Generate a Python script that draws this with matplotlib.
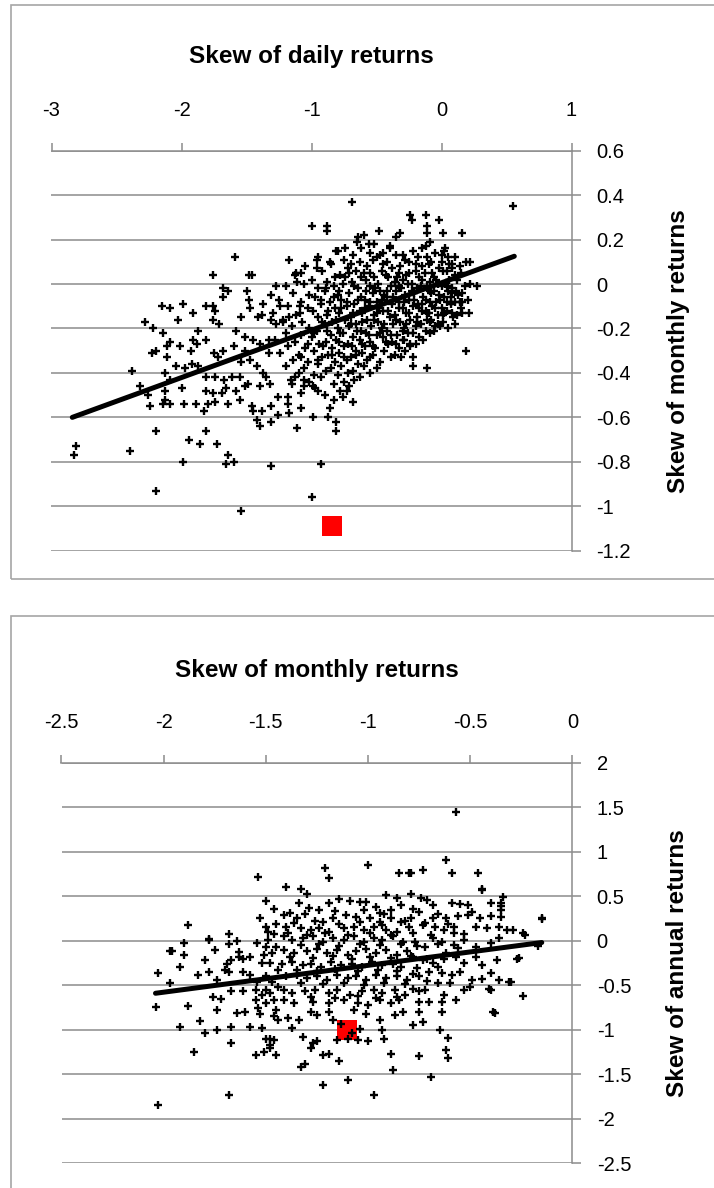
import matplotlib
matplotlib.use("Agg")
import matplotlib.pyplot as plt
from matplotlib.patches import Rectangle

plt.rcParams['font.family'] = ['Liberation Sans Narrow', 'Liberation Sans', 'DejaVu Sans']
plt.rcParams['axes.unicode_minus'] = False

GRID = '#8c8c8c'

# ---- panel 1: skew of daily returns (x) vs skew of monthly returns (y)
daily_monthly = [
    # outliers / sparse left part
    (-1.76, 0.04), (-1.68, -0.02), (-1.64, -0.03), (-1.68, -0.06), (-2.15, -0.10), (-2.09, -0.11),
    (-1.99, -0.09), (-1.91, -0.13), (-2.03, -0.16), (-1.81, -0.10), (-1.76, -0.10), (-1.74, -0.12),
    (-1.76, -0.16), (-1.71, -0.18), (-2.28, -0.17), (-2.22, -0.20), (-2.14, -0.22), (-1.87, -0.21),
    (-1.91, -0.25), (-1.88, -0.27), (-1.81, -0.25), (-2.09, -0.26), (-2.11, -0.28), (-2.01, -0.28),
    (-1.93, -0.30), (-2.23, -0.31), (-2.20, -0.30), (-2.11, -0.33), (-2.04, -0.37), (-1.97, -0.38),
    (-1.92, -0.36), (-1.87, -0.37), (-2.38, -0.39), (-2.13, -0.40), (-2.09, -0.43), (-2.00, -0.47),
    (-2.32, -0.46), (-2.26, -0.50), (-2.13, -0.48), (-2.13, -0.52), (-2.24, -0.55), (-2.14, -0.54),
    (-2.09, -0.54), (-1.98, -0.54), (-1.89, -0.54), (-1.83, -0.57), (-1.80, -0.54), (-1.74, -0.53),
    (-1.81, -0.42), (-1.74, -0.42), (-1.81, -0.48), (-1.76, -0.49), (-1.69, -0.49), (-1.75, -0.31),
    (-1.72, -0.33), (-1.68, -0.30), (-1.66, -0.47), (-1.67, -0.43), (-1.64, -0.54),
    (-2.81, -0.73), (-2.83, -0.77), (-2.40, -0.75), (-2.20, -0.66), (-1.81, -0.66), (-1.94, -0.70),
    (-1.86, -0.72), (-1.73, -0.72), (-1.99, -0.80), (-1.66, -0.81), (-1.64, -0.77), (-2.20, -0.93),
    (-0.69, 0.37), (-1.00, 0.26), (-0.88, 0.26), (-0.88, 0.24), (-0.64, 0.21), (-0.60, 0.22),
    (-0.65, 0.19), (-0.48, 0.24), (-0.35, 0.21), (-0.56, 0.18), (-0.52, 0.18), (-1.59, 0.12),
    (-1.17, 0.11), (-0.96, 0.11), (-0.96, 0.07), (-0.81, 0.15), (-0.74, 0.16), (-0.45, 0.14),
    (-0.40, 0.17), (-1.48, 0.04), (-1.46, 0.04), (-1.13, 0.04), (-1.08, 0.05), (-1.11, 0.01),
    (-1.27, -0.01), (-1.50, -0.03), (-1.31, -0.05), (-1.37, -0.09), (-1.48, -0.07), (-1.47, -0.11),
    (-1.24, -0.10), (-1.54, -0.15), (-1.41, -0.15), (-1.38, -0.14), (-1.31, -0.16), (-1.27, -0.18),
    (-1.22, -0.17), (-1.17, -0.15), (-1.09, -0.13), (-1.09, -0.10),
    (-1.51, -0.24), (-1.45, -0.25), (-1.58, -0.21), (-1.60, -0.28), (-1.51, -0.30), (-1.40, -0.27),
    (-1.33, -0.25), (-1.33, -0.31), (-1.54, -0.35), (-1.47, -0.34), (-1.42, -0.37), (-1.61, -0.42),
    (-1.55, -0.42), (-1.49, -0.45), (-1.58, -0.48), (-1.51, -0.46), (-1.37, -0.40), (-1.35, -0.42),
    (-1.32, -0.45), (-1.40, -0.46), (-1.55, -0.52), (-1.46, -0.55), (-1.45, -0.57), (-1.38, -0.57),
    (-1.31, -0.55), (-1.42, -0.61), (-1.40, -0.64), (-1.31, -0.62), (-1.26, -0.59), (-1.18, -0.51),
    (-1.18, -0.54), (-1.26, -0.51), (-1.17, -0.58), (-1.08, -0.56), (-1.11, -0.65), (-0.99, -0.60),
    (-0.87, -0.60), (-0.86, -0.56), (-0.81, -0.62), (-0.81, -0.66), (-0.95, -0.48), (-0.90, -0.50),
    (-0.83, -0.45), (-0.78, -0.48), (-0.73, -0.48), (-0.76, -0.51), (-0.83, -0.52), (-0.68, -0.53),
    (-1.08, -0.49), (-1.13, -0.42), (-1.06, -0.43), (-1.15, -0.45), (-0.99, -0.46), (-1.31, -0.82),
    (-0.93, -0.81), (-1.00, -0.96), (-1.54, -1.02), (-1.60, -0.80),
    (0.55, 0.35), (-0.24, 0.31), (-0.23, 0.29), (-0.12, 0.31), (-0.11, 0.26), (-0.02, 0.29),
    (-0.11, 0.23), (0.01, 0.23), (0.16, 0.23), (-0.32, 0.23), (-0.09, 0.19), (-0.15, 0.16),
    (0.03, 0.16), (0.00, 0.13), (0.10, 0.12), (0.14, 0.08), (0.19, 0.10), (0.22, 0.10),
    (0.08, 0.09), (0.04, 0.06), (0.22, 0.00), (0.27, -0.01), (0.16, -0.04), (0.08, -0.04),
    (0.07, -0.08), (0.16, -0.08), (0.04, -0.08), (0.08, -0.13), (0.16, -0.13), (0.21, -0.13),
    (0.10, -0.18), (0.01, -0.14), (-0.01, -0.19), (-0.06, -0.21), (-0.09, -0.17), (-0.11, -0.13),
    (0.19, -0.30), (-0.29, -0.25), (-0.24, -0.27), (-0.28, -0.30), (-0.22, -0.33), (-0.31, -0.33),
    (-0.22, -0.37), (-0.11, -0.38),
    # dense cloud
    (-0.80, 0.15), (-0.62, 0.16), (-0.55, 0.14), (-0.40, 0.16), (-0.30, 0.13), (-0.22, 0.15),
    (-0.12, 0.17), (-0.05, 0.14), (0.02, 0.15),
    (-0.95, 0.12), (-0.75, 0.11), (-0.68, 0.13), (-0.50, 0.12), (-0.42, 0.10), (-0.35, 0.13),
    (-0.28, 0.11), (-0.18, 0.12), (-0.08, 0.10), (0.05, 0.12),
    (-1.05, 0.08), (-0.85, 0.09), (-0.72, 0.07), (-0.63, 0.10), (-0.57, 0.08), (-0.45, 0.09),
    (-0.38, 0.07), (-0.25, 0.10), (-0.15, 0.08), (-0.10, 0.09), (-0.02, 0.07), (0.06, 0.09),
    (-1.12, 0.05), (-0.92, 0.06), (-0.78, 0.04), (-0.66, 0.06), (-0.60, 0.05), (-0.52, 0.03),
    (-0.46, 0.06), (-0.33, 0.05), (-0.27, 0.04), (-0.20, 0.06), (-0.13, 0.05), (-0.06, 0.03),
    (0.01, 0.06), (0.10, 0.04),
    (-1.00, 0.02), (-0.88, 0.01), (-0.74, 0.03), (-0.69, 0.01), (-0.58, 0.02), (-0.49, 0.00),
    (-0.41, 0.03), (-0.36, 0.01), (-0.30, 0.02), (-0.23, 0.00), (-0.17, 0.03), (-0.09, 0.01),
    (-0.04, 0.02), (0.03, 0.00), (0.12, 0.02),
    (-1.20, -0.01), (-1.06, 0.00), (-0.95, -0.02), (-0.83, -0.01), (-0.76, 0.00), (-0.64, -0.02),
    (-0.55, -0.01), (-0.47, -0.03), (-0.39, -0.01), (-0.31, -0.02), (-0.26, 0.00), (-0.19, -0.02),
    (-0.11, -0.01), (-0.06, -0.03), (0.00, -0.01), (0.08, -0.02), (0.18, -0.01),
    (-1.14, -0.04), (-1.02, -0.05), (-0.90, -0.03), (-0.80, -0.05), (-0.71, -0.04), (-0.62, -0.06),
    (-0.53, -0.04), (-0.44, -0.05), (-0.35, -0.03), (-0.28, -0.05), (-0.21, -0.04), (-0.14, -0.06),
    (-0.08, -0.04), (-0.02, -0.05), (0.05, -0.03), (0.13, -0.05),
    (-1.25, -0.07), (-1.08, -0.08), (-0.97, -0.06), (-0.86, -0.08), (-0.77, -0.07), (-0.67, -0.09),
    (-0.59, -0.07), (-0.50, -0.08), (-0.42, -0.06), (-0.33, -0.08), (-0.25, -0.07), (-0.18, -0.09),
    (-0.12, -0.07), (-0.04, -0.08), (0.02, -0.06), (0.10, -0.08), (0.20, -0.07),
    (-1.18, -0.10), (-1.03, -0.11), (-0.93, -0.09), (-0.82, -0.11), (-0.73, -0.10), (-0.63, -0.12),
    (-0.56, -0.10), (-0.48, -0.11), (-0.38, -0.09), (-0.30, -0.11), (-0.22, -0.10), (-0.15, -0.12),
    (-0.07, -0.10), (0.00, -0.11), (0.07, -0.09), (0.15, -0.11),
    (-1.30, -0.13), (-1.12, -0.14), (-0.99, -0.12), (-0.88, -0.14), (-0.79, -0.13), (-0.70, -0.15),
    (-0.61, -0.13), (-0.52, -0.14), (-0.45, -0.12), (-0.36, -0.14), (-0.27, -0.13), (-0.19, -0.15),
    (-0.10, -0.13), (-0.03, -0.14), (0.04, -0.12), (0.12, -0.14),
    (-1.22, -0.16), (-1.07, -0.17), (-0.95, -0.15), (-0.84, -0.17), (-0.74, -0.16), (-0.66, -0.18),
    (-0.57, -0.16), (-0.49, -0.17), (-0.40, -0.15), (-0.32, -0.17), (-0.24, -0.16), (-0.16, -0.18),
    (-0.08, -0.16), (0.01, -0.17), (0.09, -0.15),
    (-1.15, -0.19), (-1.02, -0.20), (-0.90, -0.18), (-0.80, -0.20), (-0.71, -0.19), (-0.62, -0.21),
    (-0.54, -0.19), (-0.46, -0.20), (-0.37, -0.18), (-0.29, -0.20), (-0.20, -0.19), (-0.12, -0.21),
    (-0.05, -0.19), (0.05, -0.20),
    (-1.20, -0.22), (-1.08, -0.23), (-0.96, -0.21), (-0.85, -0.23), (-0.76, -0.22), (-0.68, -0.24),
    (-0.58, -0.22), (-0.50, -0.23), (-0.42, -0.21), (-0.34, -0.23), (-0.26, -0.22), (-0.17, -0.24),
    (-0.09, -0.22),
    (-1.28, -0.25), (-1.13, -0.26), (-1.00, -0.24), (-0.89, -0.26), (-0.81, -0.25), (-0.72, -0.27),
    (-0.63, -0.25), (-0.55, -0.26), (-0.45, -0.24), (-0.38, -0.26), (-0.30, -0.25), (-0.20, -0.27),
    (-0.14, -0.25),
    (-1.18, -0.28), (-1.05, -0.29), (-0.94, -0.27), (-0.84, -0.29), (-0.75, -0.28), (-0.66, -0.30),
    (-0.59, -0.28), (-0.51, -0.29), (-0.41, -0.27), (-0.33, -0.29), (-0.24, -0.28),
    (-1.24, -0.31), (-1.10, -0.32), (-0.98, -0.30), (-0.87, -0.32), (-0.79, -0.31), (-0.70, -0.33),
    (-0.61, -0.31), (-0.53, -0.32), (-0.44, -0.30), (-0.36, -0.32),
    (-1.14, -0.34), (-1.03, -0.35), (-0.92, -0.33), (-0.82, -0.35), (-0.73, -0.34), (-0.64, -0.36),
    (-0.57, -0.34), (-0.47, -0.35), (-0.39, -0.33),
    (-1.20, -0.37), (-1.06, -0.38), (-0.95, -0.36), (-0.85, -0.38), (-0.77, -0.37), (-0.68, -0.39),
    (-0.60, -0.37), (-0.50, -0.38),
    (-1.10, -0.40), (-0.98, -0.41), (-0.89, -0.39), (-0.80, -0.41), (-0.72, -0.40), (-0.63, -0.42),
    (-0.55, -0.40),
    (-1.16, -0.43), (-1.02, -0.44), (-0.93, -0.42), (-0.75, -0.44), (-0.67, -0.43),
    (-1.06, -0.46), (-0.97, -0.47), (-0.71, -0.46),
    # core of the cloud, second pass
    (-0.86, 0.10), (-0.70, 0.09), (-0.53, 0.11), (-0.47, 0.13), (-0.32, 0.08), (-0.20, 0.09),
    (-0.11, 0.12), (0.00, 0.10), (0.08, 0.07),
    (-0.82, 0.03), (-0.71, 0.05), (-0.62, 0.03), (-0.55, 0.05), (-0.43, 0.04), (-0.34, 0.03),
    (-0.25, 0.05), (-0.15, 0.02), (-0.07, 0.05), (0.06, 0.02), (0.15, 0.05),
    (-0.89, -0.02), (-0.79, -0.03), (-0.67, -0.01), (-0.58, -0.03), (-0.51, -0.02), (-0.42, -0.03),
    (-0.33, -0.01), (-0.23, -0.03), (-0.16, -0.01), (-0.09, -0.03), (-0.03, 0.00), (0.04, -0.01),
    (0.11, -0.03),
    (-0.93, -0.07), (-0.83, -0.06), (-0.73, -0.08), (-0.64, -0.07), (-0.55, -0.08), (-0.46, -0.07),
    (-0.37, -0.06), (-0.29, -0.08), (-0.21, -0.07), (-0.15, -0.09), (-0.09, -0.08), (-0.01, -0.07),
    (0.07, -0.06), (0.14, -0.08),
    (-0.87, -0.12), (-0.77, -0.11), (-0.68, -0.13), (-0.59, -0.11), (-0.50, -0.13), (-0.41, -0.12),
    (-0.33, -0.11), (-0.25, -0.13), (-0.17, -0.11), (-0.12, -0.12), (-0.05, -0.11), (0.02, -0.13),
    (-0.92, -0.17), (-0.81, -0.16), (-0.70, -0.18), (-0.61, -0.17), (-0.52, -0.16), (-0.44, -0.18),
    (-0.35, -0.16), (-0.27, -0.18), (-0.19, -0.17), (-0.11, -0.16), (-0.03, -0.18),
    (-0.98, -0.22), (-0.88, -0.21), (-0.78, -0.22), (-0.65, -0.21), (-0.56, -0.23), (-0.47, -0.22),
    (-0.39, -0.23), (-0.30, -0.21), (-0.22, -0.22),
    (-1.03, -0.27), (-0.91, -0.28), (-0.79, -0.26), (-0.69, -0.28), (-0.61, -0.27), (-0.53, -0.28),
    (-0.43, -0.26), (-0.35, -0.27),
    (-1.08, -0.33), (-0.95, -0.34), (-0.84, -0.32), (-0.75, -0.33), (-0.66, -0.32), (-0.55, -0.33),
]
daily_trend_x = [-2.84, 0.56]
daily_trend_y = [-0.60, 0.125]
daily_highlight = (-0.84, -1.09)
daily_xticks = [-3, -2, -1, 0, 1]
daily_yticks = [0.6, 0.4, 0.2, 0, -0.2, -0.4, -0.6, -0.8, -1, -1.2]

# ---- panel 2: skew of monthly returns (x) vs skew of annual returns (y)
monthly_annual = [
    (-1.54, 0.72), (-1.50, 0.45), (-1.46, 0.36), (-1.88, 0.18), (-1.90, -0.02), (-1.96, -0.12),
    (-1.90, -0.16), (-1.92, -0.29), (-1.78, 0.01), (-1.75, -0.10), (-1.68, 0.08), (-1.68, -0.04),
    (-1.64, 0.00), (-1.63, -0.13), (-1.63, -0.18), (-1.67, -0.22), (-1.69, -0.26), (-1.70, -0.33),
    (-1.68, -0.35), (-1.80, -0.22), (-1.83, -0.39), (-1.78, -0.35), (-1.74, -0.44), (-1.61, -0.20),
    (-1.58, -0.18), (-1.61, -0.35), (-1.58, -0.39), (-2.03, -0.36), (-1.97, -0.48), (-2.04, -0.74),
    (-1.88, -0.73), (-1.76, -0.63), (-1.72, -0.65), (-1.67, -0.57), (-1.61, -0.57), (-1.74, -0.78),
    (-1.64, -0.81), (-1.60, -0.80), (-1.92, -0.97), (-1.82, -0.90), (-1.80, -1.04), (-1.74, -1.00),
    (-1.67, -0.97), (-1.58, -0.97), (-1.52, -0.98), (-1.67, -1.15), (-1.85, -1.25), (-1.55, -1.28),
    (-1.51, -1.25), (-1.48, -1.21), (-1.45, -1.28), (-1.50, -1.10), (-1.48, -1.10), (-1.46, -1.11),
    (-1.48, -1.17), (-1.68, -1.73), (-2.03, -1.85), (-1.55, -0.67), (-1.54, -0.76), (-1.53, -0.82),
    (-1.50, -0.70), (-1.52, -0.61), (-1.55, -0.55), (-1.50, -0.55), (-1.48, -0.59), (-1.46, -0.67),
    (-1.45, -0.78), (-1.46, -0.85), (-1.44, -0.89), (-1.53, 0.25), (-1.50, 0.16), (-1.49, 0.10),
    (-1.46, 0.08), (-1.45, 0.19), (-1.545, -0.03), (-1.50, -0.07), (-1.47, -0.14), (-1.45, -0.07),
    (-1.52, -0.25), (-1.48, -0.25), (-1.44, -0.33), (-1.50, -0.40), (-1.47, -0.46), (-1.44, -0.52),
    (-1.545, -0.46), (-1.49, 0.01), (-1.51, -0.16), (-1.97, -0.11), (-1.78, 0.02),
    (-1.00, 0.85), (-1.21, 0.82), (-1.19, 0.71), (-0.85, 0.76), (-0.80, 0.76), (-1.40, 0.60),
    (-1.33, 0.58), (-1.30, 0.52), (-0.91, 0.51), (-0.86, 0.48), (-0.84, 0.40), (-1.34, 0.42),
    (-1.29, 0.37), (-1.24, 0.34), (-1.19, 0.42), (-1.14, 0.47), (-1.09, 0.45), (-1.04, 0.44),
    (-1.01, 0.43), (-0.96, 0.38), (-0.94, 0.31), (-0.89, 0.35), (-1.41, 0.29), (-1.38, 0.31),
    (-1.35, 0.25), (-1.22, 0.21), (-1.17, 0.25), (-1.11, 0.29), (-1.06, 0.27), (-0.99, 0.25),
    (-0.94, 0.21), (-0.89, 0.25), (-0.84, 0.21),
    (-1.40, 0.16), (-1.33, 0.14), (-1.28, 0.12), (-1.24, 0.14), (-1.19, 0.10), (-1.12, 0.14),
    (-1.07, 0.16), (-1.02, 0.12), (-0.97, 0.16), (-0.91, 0.12), (-0.86, 0.10), (-0.80, 0.16),
    (-1.41, 0.05), (-1.37, 0.01), (-1.32, 0.03), (-1.27, 0.05), (-1.22, -0.01), (-1.17, 0.03),
    (-1.12, 0.01), (-1.07, 0.05), (-1.02, -0.01), (-0.97, 0.03), (-0.93, 0.01), (-0.88, 0.05),
    (-0.83, -0.01),
    (-1.41, -0.10), (-1.36, -0.14), (-1.30, -0.12), (-1.25, -0.09), (-1.20, -0.14), (-1.15, -0.10),
    (-1.10, -0.16), (-1.06, -0.12), (-1.01, -0.09), (-0.96, -0.14), (-0.91, -0.10), (-0.86, -0.16),
    (-0.81, -0.12),
    (-1.42, -0.26), (-1.37, -0.24), (-1.32, -0.27), (-1.28, -0.26), (-1.23, -0.29), (-1.18, -0.24),
    (-1.13, -0.27), (-1.08, -0.26), (-1.03, -0.29), (-0.98, -0.24), (-0.93, -0.27), (-0.88, -0.26),
    (-0.84, -0.29),
    (-1.40, -0.40), (-1.35, -0.39), (-1.30, -0.42), (-1.25, -0.40), (-1.20, -0.44), (-1.15, -0.39),
    (-1.10, -0.42), (-1.06, -0.40), (-1.01, -0.44), (-0.96, -0.39), (-0.91, -0.42), (-0.86, -0.40),
    (-0.81, -0.44),
    (-1.41, -0.55), (-1.37, -0.59), (-1.31, -0.57), (-1.26, -0.55), (-1.19, -0.59), (-1.15, -0.55),
    (-1.09, -0.61), (-1.03, -0.57), (-0.97, -0.55), (-0.93, -0.59), (-0.87, -0.55), (-0.82, -0.61),
    (-1.41, -0.67), (-1.36, -0.70), (-1.27, -0.69), (-1.19, -0.70), (-1.12, -0.67), (-1.05, -0.70),
    (-1.00, -0.72), (-0.94, -0.67), (-0.89, -0.70), (-0.85, -0.67),
    (-1.39, -0.87), (-1.34, -0.89), (-1.28, -0.80), (-1.25, -0.83), (-1.19, -0.80), (-1.17, -0.89),
    (-1.07, -0.78), (-1.01, -0.82), (-0.94, -0.89), (-0.87, -0.83), (-0.83, -0.80),
    (-1.37, -0.985), (-1.32, -1.08), (-1.27, -1.15), (-1.28, -1.21), (-1.25, -1.13), (-1.22, -1.28),
    (-1.19, -1.27), (-1.31, -1.38), (-1.33, -1.42),
    (-1.13, -0.93), (-1.08, -1.04), (-1.15, -1.12), (-1.10, -1.10), (-1.05, -1.12), (-1.00, -1.13),
    (-1.04, -0.99), (-0.93, -1.00), (-0.92, -1.10), (-0.89, -1.27), (-0.88, -1.45), (-1.14, -1.35),
    (-1.10, -1.56), (-1.22, -1.62), (-0.97, -1.73),
    (-0.57, 1.45), (-0.62, 0.91), (-0.79, 0.76), (-0.73, 0.79), (-0.59, 0.76), (-0.46, 0.76),
    (-0.44, 0.58), (-0.79, 0.53), (-0.34, 0.49), (-0.35, 0.42), (-0.35, 0.35), (-0.74, 0.48),
    (-0.71, 0.46), (-0.68, 0.40), (-0.59, 0.42), (-0.55, 0.41), (-0.51, 0.40), (-0.49, 0.32),
    (-0.40, 0.42), (-0.79, 0.25), (-0.75, 0.32), (-0.68, 0.25), (-0.62, 0.25), (-0.56, 0.28),
    (-0.51, 0.29), (-0.45, 0.25), (-0.40, 0.28), (-0.35, 0.27), (-0.15, 0.25),
    (-0.73, 0.18), (-0.67, 0.16), (-0.63, 0.12), (-0.58, 0.16), (-0.53, 0.08), (-0.47, 0.16),
    (-0.42, 0.14), (-0.36, 0.16), (-0.32, 0.12), (-0.29, 0.12), (-0.23, 0.07),
    (-0.77, -0.01), (-0.72, -0.07), (-0.68, 0.03), (-0.64, -0.01), (-0.58, -0.05), (-0.53, 0.01),
    (-0.47, -0.07), (-0.40, -0.03), (-0.36, 0.03),
    (-0.78, -0.18), (-0.73, -0.22), (-0.68, -0.25), (-0.63, -0.20), (-0.57, -0.18), (-0.53, -0.25),
    (-0.47, -0.18), (-0.44, -0.27), (-0.37, -0.22), (-0.27, -0.20),
    (-0.78, -0.37), (-0.75, -0.40), (-0.70, -0.35), (-0.64, -0.36), (-0.59, -0.39), (-0.55, -0.35),
    (-0.49, -0.44), (-0.44, -0.43), (-0.40, -0.36), (-0.36, -0.44), (-0.31, -0.46),
    (-0.78, -0.54), (-0.75, -0.57), (-0.72, -0.55), (-0.66, -0.48), (-0.60, -0.48), (-0.53, -0.55),
    (-0.50, -0.52), (-0.40, -0.55), (-0.24, -0.62),
    (-0.75, -0.69), (-0.70, -0.69), (-0.64, -0.69), (-0.63, -0.61), (-0.57, -0.67), (-0.39, -0.80),
    (-0.64, -0.80), (-0.75, -0.80),
    (-0.78, -0.95), (-0.73, -0.91), (-0.65, -1.00), (-0.61, -1.09), (-0.62, -1.23), (-0.61, -1.32),
    (-0.75, -1.30), (-0.69, -1.53),
    (-0.17, -0.06), (-0.38, -0.81), (-0.41, -0.54), (-0.26, -0.19), (-0.30, -0.46), (-0.35, 0.39),
    (-0.44, 0.57), (-0.24, 0.09), (-0.15, 0.24),
    # core of the cloud, second pass
    (-1.31, 0.30), (-1.16, 0.33), (-1.02, 0.35), (-0.92, 0.30), (-0.78, 0.36), (-0.66, 0.30),
    (-1.36, 0.20), (-1.26, 0.22), (-1.14, 0.19), (-1.04, 0.21), (-0.93, 0.18), (-0.82, 0.22),
    (-0.72, 0.20), (-0.61, 0.19),
    (-1.39, 0.09), (-1.30, 0.07), (-1.21, 0.09), (-1.10, 0.07), (-0.99, 0.09), (-0.89, 0.07),
    (-0.78, 0.09), (-0.69, 0.07), (-0.58, 0.09),
    (-1.33, -0.05), (-1.24, -0.04), (-1.14, -0.06), (-1.04, -0.04), (-0.94, -0.05), (-0.84, -0.04),
    (-0.76, -0.06), (-0.66, -0.04), (-0.56, -0.08),
    (-1.38, -0.18), (-1.27, -0.19), (-1.17, -0.17), (-1.08, -0.20), (-0.99, -0.18), (-0.89, -0.19),
    (-0.79, -0.17), (-0.71, -0.20), (-0.62, -0.14),
    (-1.35, -0.33), (-1.25, -0.34), (-1.16, -0.32), (-1.05, -0.34), (-0.95, -0.33), (-0.86, -0.34),
    (-0.76, -0.31), (-0.66, -0.30),
    (-1.33, -0.48), (-1.22, -0.49), (-1.12, -0.47), (-1.02, -0.50), (-0.92, -0.48), (-0.82, -0.49),
    (-0.71, -0.45),
    (-1.28, -0.63), (-1.16, -0.64), (-1.05, -0.62), (-0.96, -0.64), (-0.86, -0.63),
]
monthly_trend_x = [-2.04, -0.15]
monthly_trend_y = [-0.59, -0.02]
monthly_highlight = (-1.105, -1.00)
monthly_xticks = [-2.5, -2, -1.5, -1, -0.5, 0]
monthly_yticks = [2, 1.5, 1, 0.5, 0, -0.5, -1, -1.5, -2, -2.5]

W, H = 714, 1188


def fx(px):
    return px / W


def fy(py):
    return 1 - py / H


def draw_panel(rect, pts, trend_x, trend_y, highlight, xticks, yticks, title, ylabel, title_y):
    ax = fig.add_axes(rect)
    xs = [p[0] for p in pts]
    ys = [p[1] for p in pts]
    ax.set_xlim(xticks[0], xticks[-1])
    ax.set_ylim(yticks[-1], yticks[0])

    ax.plot([highlight[0]], [highlight[1]], ls='none', marker='s', ms=15,
            color='#ff0000', mew=0, zorder=2)
    ax.plot(xs, ys, ls='none', marker='+', ms=5.5, mew=1.7, color='black', zorder=3)
    ax.plot(trend_x, trend_y, color='black', lw=3.6, solid_capstyle='round', zorder=4)

    ax.xaxis.tick_top()
    ax.yaxis.tick_right()
    ax.set_xticks(xticks)
    ax.set_xticklabels([f'{v:g}' for v in xticks])
    ax.set_yticks(yticks)
    ax.set_yticklabels([f'{v:g}' for v in yticks])
    for lab in ax.get_yticklabels():
        lab.set_horizontalalignment('left')
    ax.tick_params(axis='x', direction='out', length=6, width=1.1, color=GRID,
                   labelsize=14.5, pad=16)
    ax.tick_params(axis='y', direction='out', length=6.5, width=1.1, color=GRID,
                   labelsize=14.5, pad=11)
    ax.yaxis.grid(True, color=GRID, lw=1.1)
    ax.set_axisbelow(True)
    for side in ('left', 'bottom'):
        ax.spines[side].set_visible(False)
    for side in ('top', 'right'):
        ax.spines[side].set_color(GRID)
        ax.spines[side].set_linewidth(1.1)
    ax.set_facecolor('none')

    x0, y0, w, h = rect
    fig.text(x0 + w / 2, title_y, title, ha='center', va='center',
             fontsize=17.5, fontweight='bold')
    fig.text(fx(678), y0 + h / 2, ylabel, ha='center', va='center',
             rotation=90, fontsize=17.5, fontweight='bold')
    return ax


fig = plt.figure(figsize=(W / 100, H / 100), dpi=100)

# chart area borders (extend past the right/bottom edge like the source)
fig.add_artist(Rectangle((fx(11), fy(579)), 1.0, fy(5) - fy(579), transform=fig.transFigure,
                         fill=False, ec='#a6a6a6', lw=1.2))
fig.add_artist(Rectangle((fx(11), -0.05), 1.0, fy(616) + 0.05, transform=fig.transFigure,
                         fill=False, ec='#a6a6a6', lw=1.2))

draw_panel([fx(51.5), fy(550.7), (571.5 - 51.5) / W, 400 / H],
           daily_monthly, daily_trend_x, daily_trend_y, daily_highlight,
           daily_xticks, daily_yticks, 'Skew of daily returns', 'Skew of monthly returns',
           fy(57))
draw_panel([fx(61.5), fy(1163.3), (572.4 - 61.5) / W, 400.6 / H],
           monthly_annual, monthly_trend_x, monthly_trend_y, monthly_highlight,
           monthly_xticks, monthly_yticks, 'Skew of monthly returns', 'Skew of annual returns',
           fy(670))

fig.savefig('out.png', dpi=100)
